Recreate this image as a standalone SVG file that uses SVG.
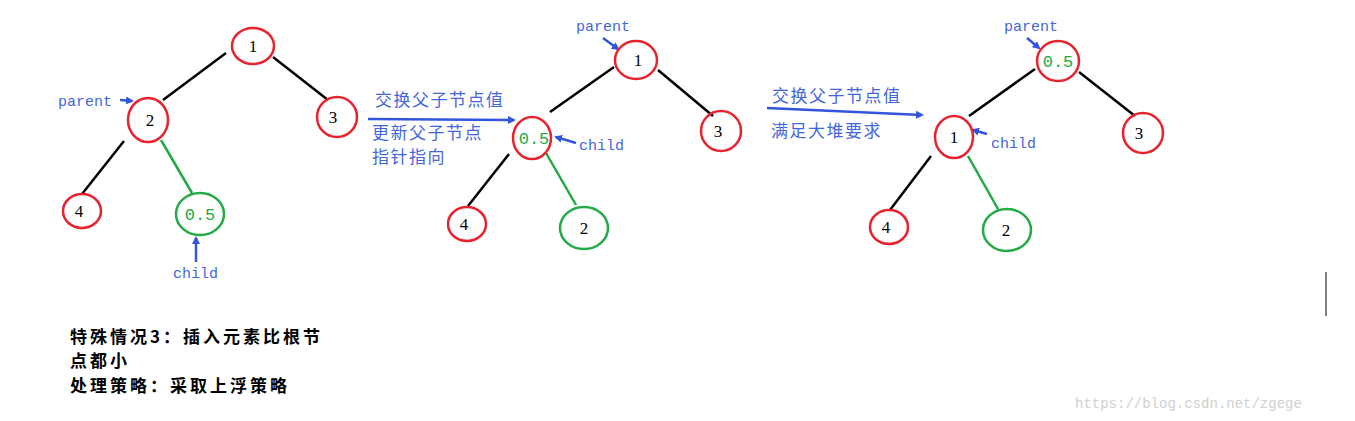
<svg xmlns="http://www.w3.org/2000/svg" width="1355" height="421" viewBox="0 0 1355 421">
<style>
.r{fill:none;stroke:#e8232e;stroke-width:2.5}
.g{fill:none;stroke:#22aa44;stroke-width:2.5}
.e{stroke:#000;stroke-width:2.5}
.eg{stroke:#22aa44;stroke-width:2.5}
.n{font-family:"Liberation Serif",serif;font-size:17px;text-anchor:middle}
.ng{font-family:"Liberation Mono",monospace;font-size:17px;text-anchor:middle;fill:#22aa44}
.lb{font-family:"Liberation Mono",monospace;font-size:15px;fill:#4466dd}
.cn{font-family:"Noto Sans CJK SC",sans-serif;font-size:17px;letter-spacing:1.5px;fill:#4466dd}
.bd{font-family:"Noto Sans CJK SC",sans-serif;font-size:17px;letter-spacing:3px;font-weight:bold;fill:#000}
.ar{stroke:#3355dd;stroke-width:2.5;fill:none}
</style>
<defs><marker id="a" markerWidth="8" markerHeight="8" refX="6" refY="4" orient="auto" markerUnits="userSpaceOnUse"><path d="M0,0L8,4L0,8z" fill="#3355dd"/></marker></defs>
<rect width="1355" height="421" fill="#fff"/>
<g id="connectors">
<line class="e" x1="226" y1="53" x2="163" y2="100"/><line class="e" x1="273" y1="57" x2="328" y2="100"/><line class="e" x1="124" y1="141" x2="82" y2="194"/><line class="eg" x1="161" y1="140" x2="192" y2="193"/>
<line class="e" x1="614" y1="67" x2="550" y2="112"/><line class="e" x1="658" y1="70" x2="713" y2="116"/><line class="e" x1="509" y1="154" x2="468" y2="206"/><line class="eg" x1="546" y1="153" x2="576" y2="205"/>
<line class="e" x1="1035" y1="69" x2="969" y2="116"/><line class="e" x1="1079" y1="72" x2="1135" y2="116"/><line class="e" x1="931" y1="156" x2="890" y2="210"/><line class="eg" x1="968" y1="156" x2="998" y2="209"/>
<line class="ar" x1="120" y1="100" x2="132" y2="101" marker-end="url(#a)"/>
<line class="ar" x1="196" y1="262" x2="196" y2="238" marker-end="url(#a)"/>
<line class="ar" x1="368" y1="119" x2="514" y2="120" marker-end="url(#a)"/>
<line class="ar" x1="603" y1="38" x2="618" y2="49" marker-end="url(#a)"/>
<line class="ar" x1="576" y1="143" x2="556" y2="137" marker-end="url(#a)"/>
<line class="ar" x1="767" y1="108" x2="922" y2="115" marker-end="url(#a)"/>
<line class="ar" x1="1027" y1="38" x2="1039" y2="48" marker-end="url(#a)"/>
<line class="ar" x1="987" y1="134" x2="973" y2="130" marker-end="url(#a)"/>
</g>
<g id="t1n1"><ellipse class="r" cx="253" cy="46" rx="21" ry="18"/><text class="n" x="253" y="52">1</text></g>
<g id="t1n2"><ellipse class="r" cx="148" cy="120" rx="20" ry="22"/><text class="n" x="150" y="126">2</text></g>
<g id="t1n3"><ellipse class="r" cx="337" cy="117" rx="20" ry="20"/><text class="n" x="333" y="123">3</text></g>
<g id="t1n4"><ellipse class="r" cx="82" cy="211" rx="19" ry="17"/><text class="n" x="79" y="217">4</text></g>
<g id="t1n5"><ellipse class="g" cx="200" cy="214" rx="24" ry="21"/><text class="ng" x="200" y="220">0.5</text></g>
<g id="t2n1"><ellipse class="r" cx="636" cy="60" rx="21" ry="19"/><text class="n" x="638" y="66">1</text></g>
<g id="t2n2"><ellipse class="r" cx="532" cy="138" rx="19" ry="21"/><text class="ng" x="534" y="144">0.5</text></g>
<g id="t2n3"><ellipse class="r" cx="721" cy="131" rx="20" ry="20"/><text class="n" x="718" y="137">3</text></g>
<g id="t2n4"><ellipse class="r" cx="467" cy="224" rx="19" ry="17"/><text class="n" x="464" y="230">4</text></g>
<g id="t2n5"><ellipse class="g" cx="584" cy="228" rx="24" ry="21"/><text class="n" x="584" y="234">2</text></g>
<g id="t3n1"><ellipse class="r" cx="1058" cy="61" rx="21" ry="20"/><text class="ng" x="1058" y="67">0.5</text></g>
<g id="t3n2"><ellipse class="r" cx="954" cy="137" rx="19" ry="21"/><text class="n" x="954" y="143">1</text></g>
<g id="t3n3"><ellipse class="r" cx="1143" cy="133" rx="20" ry="20"/><text class="n" x="1139" y="139">3</text></g>
<g id="t3n4"><ellipse class="r" cx="889" cy="227" rx="19" ry="17"/><text class="n" x="886" y="233">4</text></g>
<g id="t3n5"><ellipse class="g" cx="1007" cy="230" rx="24" ry="21"/><text class="n" x="1006" y="236">2</text></g>
<g id="labels">
<text class="lb" x="58" y="106">parent</text>
<text class="lb" x="173" y="278">child</text>
<text class="lb" x="576" y="31">parent</text>
<text class="lb" x="579" y="150">child</text>
<text class="lb" x="1004" y="31">parent</text>
<text class="lb" x="991" y="148">child</text>
<text class="cn" x="375" y="106">交换父子节点值</text>
<text class="cn" x="372" y="139">更新父子节点</text>
<text class="cn" x="372" y="163">指针指向</text>
<text class="cn" x="772" y="102">交换父子节点值</text>
<text class="cn" x="771" y="137">满足大堆要求</text>
<text class="bd" x="70" y="343">特殊情况3：插入元素比根节</text>
<text class="bd" x="70" y="367">点都小</text>
<text class="bd" x="70" y="392">处理策略：采取上浮策略</text>
<text x="1075" y="408" style="font-family:'Liberation Mono',monospace;font-size:14px;fill:#d0d0d0">https://blog.csdn.net/zgege</text>
</g>
<line x1="1326" y1="272" x2="1326" y2="316" stroke="#000" stroke-width="1"/>
</svg>
